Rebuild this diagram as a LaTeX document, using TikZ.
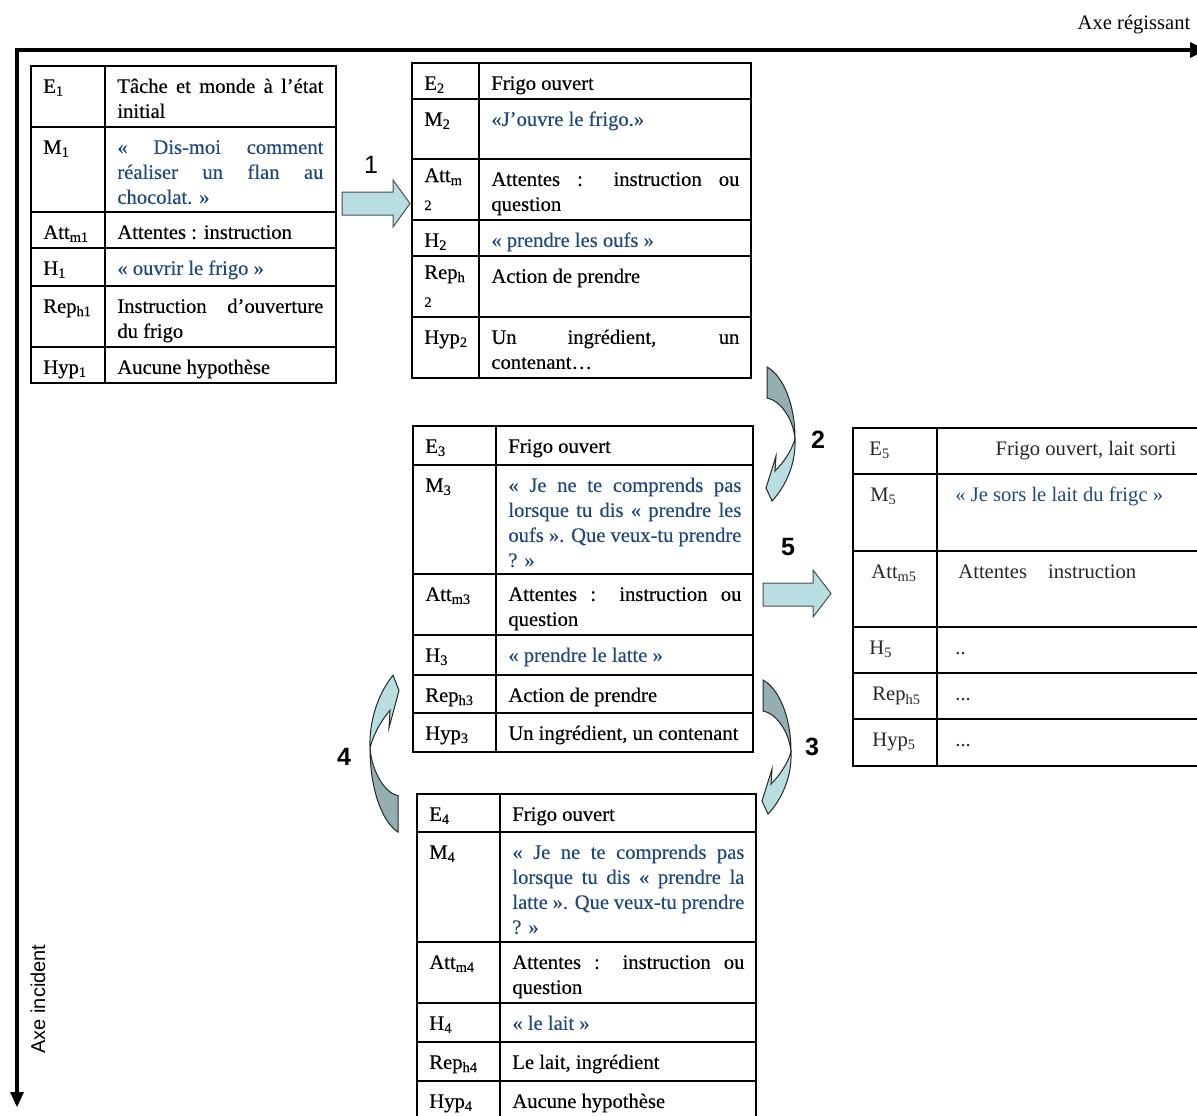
\documentclass[tikz,border=0pt]{standalone}
\usepackage{fontspec}
\setmainfont{Liberation Serif}[UprightFeatures={FakeBold=0.3}]
\newfontfamily\plainserif{Liberation Serif}
\newfontfamily\arialfont{Liberation Sans}
\definecolor{saycol}{RGB}{31,73,125}
\definecolor{backcol}{RGB}{148,174,177}
\definecolor{frontcol}{RGB}{184,222,226}
\hyphenpenalty=10000
\exhyphenpenalty=10000
\tikzset{
  pics/turnarrow/.style={code={
    \filldraw[fill=backcol,draw=black!85,line width=0.5pt] (0,0) .. controls (15,8) and (28,35) .. (28,72) .. controls (26,50) and (12,33) .. (0,31) -- cycle;
    \filldraw[fill=frontcol,draw=black!85,line width=0.5pt] (28,72) .. controls (29,95) and (20,118) .. (5,134) -- (-1,121) -- (9,89) -- (8,104) .. controls (16,96) and (24,85) .. (28,72) -- cycle;
  }}
}
\begin{document}
\begin{tikzpicture}[x=0.5pt,y=-0.5pt,
  font=\fontsize{10.3}{12.5}\selectfont,
  tab/.style={line width=1pt},
  lab/.style={anchor=north west,inner xsep=6pt,inner ysep=4.5pt,align=left,execute at begin node=\strut},
  txt/.style={anchor=north west,inner xsep=6pt,inner ysep=4.5pt,text width=#1,align=justify,execute at begin node=\strut},
  say/.style={text=saycol},
  low/.style={yshift=-0.5pt,font=\plainserif\fontsize{10.3}{12.5}\selectfont,text=black!85},
  num/.style={font=\arialfont\bfseries\fontsize{12.5}{14}\selectfont},
  blockarrow/.style={fill=frontcol,draw=black!70,line width=0.5pt}]
\useasboundingbox (0,0) rectangle (1197,1115);
\clip (0,0) rectangle (1197,1115);

% axes
\draw[line width=2.2pt] (15,50) -- (1192,50);
\fill (1190,42) -- (1206,50) -- (1190,58) -- cycle;
\draw[line width=2.2pt] (17,48) -- (17,1094);
\fill (10,1092) -- (17,1107) -- (24,1092) -- cycle;
\node[anchor=base,font=\plainserif\fontsize{10.3}{12.5}\selectfont] (xaxis) at (1134,29) {Axe régissant};
\node[rotate=90,font=\arialfont\fontsize{10}{12}\selectfont] (yaxis) at (38,999) {Axe incident};

% state 1
\draw[tab] (31,66) rectangle (336,383);
\draw[tab] (105,66) -- (105,383) (31,127) -- (336,127) (31,212) -- (336,212) (31,248) -- (336,248) (31,286) -- (336,286) (31,347) -- (336,347);
\node[lab] (e1) at (31,66) {E\textsubscript{1}};
\node[txt=103pt] (e1t) at (105,66) {Tâche et monde à l’état\linebreak initial};
\node[lab] (m1) at (31,127) {M\textsubscript{1}};
\node[txt=103pt,say] (m1t) at (105,127) {« Dis-moi comment\linebreak réaliser un flan au\linebreak chocolat. »};
\node[lab] (att1) at (31,212) {Att\textsubscript{m1}};
\node[txt=103pt] (att1t) at (105,212) {Attentes : instruction};
\node[lab] (h1) at (31,248) {H\textsubscript{1}};
\node[txt=103pt,say] (h1t) at (105,248) {« ouvrir le frigo »};
\node[lab] (rep1) at (31,286) {Rep\textsubscript{h1}};
\node[txt=103pt] (rep1t) at (105,286) {Instruction d’ouverture\linebreak du frigo};
\node[lab] (hyp1) at (31,347) {Hyp\textsubscript{1}};
\node[txt=103pt] (hyp1t) at (105,347) {Aucune hypothèse};

% state 2
\draw[tab] (412,63) rectangle (751,378);
\draw[tab] (479,63) -- (479,378) (412,99) -- (751,99) (412,159) -- (751,159) (412,220) -- (751,220) (412,256) -- (751,256) (412,317) -- (751,317);
\node[lab] (e2) at (412,63) {E\textsubscript{2}};
\node[txt=124pt] (e2t) at (479,63) {Frigo ouvert};
\node[lab] (m2) at (412,99) {M\textsubscript{2}};
\node[txt=124pt,say] (m2t) at (479,99) {«J’ouvre le frigo.»};
\node[lab] (att2) at (412,159) {Att\textsubscript{m}\\\textsubscript{2}};
\node[txt=124pt] (att2t) at (479,159) {Attentes : instruction ou\linebreak question};
\node[lab] (h2) at (412,220) {H\textsubscript{2}};
\node[txt=124pt,say] (h2t) at (479,220) {« prendre les oufs »};
\node[lab] (rep2) at (412,256) {Rep\textsubscript{h}\\\textsubscript{2}};
\node[txt=124pt] (rep2t) at (479,256) {Action de prendre};
\node[lab] (hyp2) at (412,317) {Hyp\textsubscript{2}};
\node[txt=124pt] (hyp2t) at (479,317) {Un ingrédient, un\linebreak contenant…};

% state 3
\draw[tab] (413,426) rectangle (753,752);
\draw[tab] (496,426) -- (496,752) (413,465) -- (753,465) (413,574) -- (753,574) (413,635) -- (753,635) (413,675) -- (753,675) (413,713) -- (753,713);
\node[lab] (e3) at (413,426) {E\textsubscript{3}};
\node[txt=116.5pt] (e3t) at (496,426) {Frigo ouvert};
\node[lab] (m3) at (413,465) {M\textsubscript{3}};
\node[txt=116.5pt,say] (m3t) at (496,465) {« Je ne te comprends pas\linebreak lorsque tu dis « prendre les\linebreak oufs ». Que veux-tu prendre\linebreak ? »};
\node[lab] (att3) at (413,574) {Att\textsubscript{m3}};
\node[txt=116.5pt] (att3t) at (496,574) {Attentes : instruction ou\linebreak question};
\node[lab] (h3) at (413,635) {H\textsubscript{3}};
\node[txt=116.5pt,say] (h3t) at (496,635) {« prendre le latte »};
\node[lab] (rep3) at (413,675) {Rep\textsubscript{h3}};
\node[txt=116.5pt] (rep3t) at (496,675) {Action de prendre};
\node[lab] (hyp3) at (413,713) {Hyp\textsubscript{3}};
\node[txt=116.5pt] (hyp3t) at (496,713) {Un ingrédient, un contenant};

% state 4
\draw[tab] (417,794) rectangle (756,1122);
\draw[tab] (500,794) -- (500,1122) (417,832) -- (756,832) (417,942) -- (756,942) (417,1003) -- (756,1003) (417,1042) -- (756,1042) (417,1081) -- (756,1081);
\node[lab] (e4) at (417,794) {E\textsubscript{4}};
\node[txt=116pt] (e4t) at (500,794) {Frigo ouvert};
\node[lab] (m4) at (417,832) {M\textsubscript{4}};
\node[txt=116pt,say] (m4t) at (500,832) {« Je ne te comprends pas\linebreak lorsque tu dis « prendre la\linebreak latte ». Que veux-tu prendre\linebreak ? »};
\node[lab] (att4) at (417,942) {Att\textsubscript{m4}};
\node[txt=116pt] (att4t) at (500,942) {Attentes : instruction ou\linebreak question};
\node[lab] (h4) at (417,1003) {H\textsubscript{4}};
\node[txt=116pt,say] (h4t) at (500,1003) {« le lait »};
\node[lab] (rep4) at (417,1042) {Rep\textsubscript{h4}};
\node[txt=116pt] (rep4t) at (500,1042) {Le lait, ingrédient};
\node[lab] (hyp4) at (417,1081) {Hyp\textsubscript{4}};
\node[txt=116pt] (hyp4t) at (500,1081) {Aucune hypothèse};

% state 5
\draw[tab] (853,428) rectangle (1240,766);
\draw[tab] (937,428) -- (937,766) (853,474) -- (1240,474) (853,551) -- (1240,551) (853,627) -- (1240,627) (853,673) -- (1240,673) (853,719) -- (1240,719);
\node[lab,low] (e5) at (857,428) {E\textsubscript{5}};
\node[lab,low,anchor=north] (e5t) at (1086,428) {Frigo ouvert, lait sorti};
\node[lab,low] (m5) at (858,474) {M\textsubscript{5}};
\node[lab,low,say] (m5t) at (943,474) {« Je sors le lait du frigc »};
\node[lab,low] (att5) at (859,551) {Att\textsubscript{m5}};
\node[lab,low] (att5t) at (946,551) {Attentes\hspace{10.5pt}instruction};
\node[lab,low] (h5) at (857,627) {H\textsubscript{5}};
\node[lab,low] (h5t) at (943,627) {..};
\node[lab,low] (rep5) at (860,673) {Rep\textsubscript{h5}};
\node[lab,low] (rep5t) at (943,673) {...};
\node[lab,low] (hyp5) at (860,719) {Hyp\textsubscript{5}};
\node[lab,low] (hyp5t) at (943,719) {...};

% steps
\filldraw[blockarrow] (342,192) -- (393,192) -- (393,180) -- (410,203.5) -- (393,227) -- (393,215) -- (342,215) -- cycle;
\node[font=\arialfont\fontsize{12.5}{14}\selectfont] (n1) at (371,165) {1};
\pic (c2) at (767,367) {turnarrow};
\node[num] (n2) at (818,440) {2};
\pic (c3) at (763,680) {turnarrow};
\node[num] (n3) at (812,747) {3};
\pic[rotate=180,yscale=1.17] (c4) at (398,832) {turnarrow};
\node[num] (n4) at (344,757) {4};
\filldraw[blockarrow] (763,583) -- (813,583) -- (813,570) -- (831,593.5) -- (813,617) -- (813,606) -- (763,606) -- cycle;
\node[num] (n5) at (788,547) {5};
\end{tikzpicture}
\end{document}
